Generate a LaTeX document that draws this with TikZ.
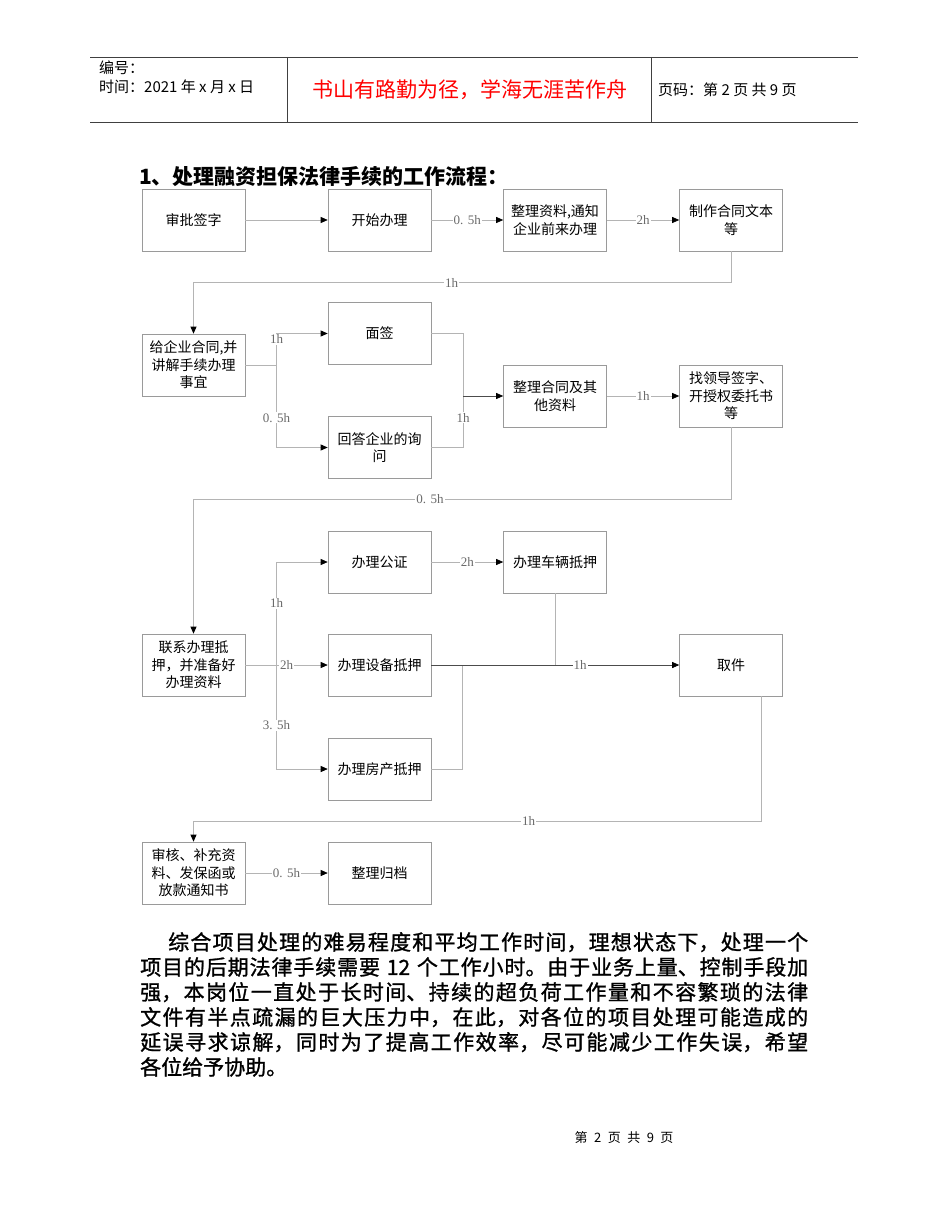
\documentclass[tikz,border=0pt]{standalone}
\usepackage{fontspec}
\setmainfont{Noto Sans CJK SC}
\newfontfamily\lblfont{Liberation Serif}
\newfontfamily\parafont{Noto Sans CJK SC}[FakeBold=1.2]
\usetikzlibrary{arrows.meta}
\XeTeXlinebreaklocale "zh"
\XeTeXlinebreakskip = 0pt plus 1pt

\definecolor{boxline}{HTML}{9A9A9A}
\definecolor{conline}{HTML}{B4B4B4}
\definecolor{lbltext}{HTML}{6A6A6A}

\newcommand*{\boxw}{103pt}
\newcommand*{\boxh}{62pt}
\newcommand*{\colA}{193.5}
\newcommand*{\colB}{379.5}
\newcommand*{\colC}{555}
\newcommand*{\colD}{731}

\begin{document}
\begin{tikzpicture}
[
	x=1pt,
	y=-1pt,
	box/.style={draw=boxline,line width=0.6pt,minimum width=\boxw,minimum height=\boxh,inner sep=0pt,align=center,font=\fontsize{14}{17.5}\selectfont},
	conn/.style={draw=conline,line width=0.7pt},
	conarr/.style={conn,-{Triangle[length=7pt,width=6pt,color=black]}},
	lbl/.style={fill=white,inner sep=1pt,text=lbltext,font=\lblfont\fontsize{13}{13}\selectfont},
	hdr/.style={line width=0.6pt,draw=black!75}
]

	\useasboundingbox (0,0) rectangle (950,1230);

	% page header
	\draw[hdr] (90,57) -- (858,57);
	\draw[hdr] (90,122) -- (858,122);
	\draw[hdr] (287,57) -- (287,122);
	\draw[hdr] (651,57) -- (651,122);
	\node[anchor=west,inner sep=0pt,font=\fontsize{15}{15}\selectfont] (bianhao) at (99,68) {编号：};
	\node[anchor=west,inner sep=0pt,font=\fontsize{15}{15}\selectfont] (shijian) at (99,87) {时间：2021 年 x 月 x 日};
	\node[inner sep=0pt,text=red,font=\fontsize{21}{21}\selectfont] (motto) at (470,90) {书山有路勤为径，学海无涯苦作舟};
	\node[anchor=west,inner sep=0pt,font=\fontsize{15}{15}\selectfont] (yema) at (658,90) {页码：第 2 页 共 9 页};

	% title
	\node[anchor=west,inner sep=0pt,font=\bfseries\fontsize{21}{21}\selectfont] (title) at (139,177) {1、处理融资担保法律手续的工作流程：};

	% boxes
	\node[box] (spqz) at (\colA,220) {审批签字};
	\node[box] (ksbl) at (\colB,220) {开始办理};
	\node[box] (zlzl) at (\colC,220) {整理资料,通知\\企业前来办理};
	\node[box] (zzht) at (\colD,220) {制作合同文本\\等};

	\node[box] (gqyh) at (\colA,365) {给企业合同,并\\讲解手续办理\\事宜};
	\node[box] (mq) at (\colB,333.5) {面签};
	\node[box] (hdxw) at (\colB,447.5) {回答企业的询\\问};
	\node[box] (zlht) at (\colC,396) {整理合同及其\\他资料};
	\node[box] (zldqz) at (\colD,396) {找领导签字、\\开授权委托书\\等};

	\node[box] (blgz) at (\colB,562) {办理公证};
	\node[box] (clcy) at (\colC,562) {办理车辆抵押};
	\node[box] (lxdy) at (\colA,665) {联系办理抵\\押，并准备好\\办理资料};
	\node[box] (sbdy) at (\colB,665) {办理设备抵押};
	\node[box] (qj) at (\colD,665) {取件};
	\node[box] (fcdy) at (\colB,769) {办理房产抵押};

	\node[box] (shbc) at (\colA,873) {审核、补充资\\料、发保函或\\放款通知书};
	\node[box] (zlgd) at (\colB,873) {整理归档};

	% turning points
	\coordinate (turnA) at (0,282.5);
	\coordinate (turnB) at (0,499.5);
	\coordinate (turnC) at (0,821);
	\coordinate (splitA) at (276.5,365);
	\coordinate (joinA) at (463,396);
	\coordinate (splitB) at (276.5,665);
	\coordinate (joinB) at (462,665);

	% first row
	\draw[conarr] (spqz) -- (ksbl);
	\draw[conarr] (ksbl) -- node[lbl] {0. 5h} (zlzl);
	\draw[conarr] (zlzl) -- node[lbl] {2h} (zzht);
	\draw[conarr] (zzht.south) -- (zzht.south |- turnA) -- node[lbl,pos=0.52] {1h} (gqyh.north |- turnA) -- (gqyh.north);

	% second row
	\draw[conn] (gqyh.east) -- (splitA);
	\draw[conarr] (splitA) |- node[lbl,pos=0.41] {1h} (mq.west);
	\draw[conarr] (splitA) |- node[lbl,pos=0.32] {0. 5h} (hdxw.west);
	\draw[conn] (mq.east) -| (joinA);
	\draw[conn] (hdxw.east) -| node[lbl,pos=0.79] {1h} (joinA);
	\draw[conarr,draw=black!70] (joinA) -- (zlht.west);
	\draw[conarr] (zlht) -- node[lbl] {1h} (zldqz);
	\draw[conarr] (zldqz.south) -- (zldqz.south |- turnB) -- node[lbl,pos=0.56] {0. 5h} (lxdy.north |- turnB) -- (lxdy.north);

	% third row
	\draw[conn] (lxdy.east) -- (splitB);
	\draw[conarr] (splitB) |- node[lbl,pos=0.3] {1h} (blgz.west);
	\draw[conarr] (lxdy.east) -- node[lbl] {2h} (sbdy.west);
	\draw[conarr] (splitB) |- node[lbl,pos=0.29] {3. 5h} (fcdy.west);
	\draw[conarr] (blgz) -- node[lbl] {2h} (clcy);
	\draw[conn] (fcdy.east) -| (joinB);
	\draw[conn] (clcy.south) -- (clcy.south |- qj.west);
	\draw[conarr,draw=black!70] (sbdy.east) -- node[lbl,pos=0.6] {1h} (qj.west);
	\draw[conarr] ([xshift=30.5pt]qj.south) -- ([xshift=30.5pt]qj.south |- turnC) -- node[lbl,pos=0.41] {1h} (shbc.north |- turnC) -- (shbc.north);

	% last row
	\draw[conarr] (shbc) -- node[lbl] {0. 5h} (zlgd);

	% text below
	\node[anchor=north west,inner sep=0pt,text width=668pt,align=justify,font=\parafont\fontsize{21}{25}\selectfont] (para) at (140,932) {\hspace*{28pt}综合项目处理的难易程度和平均工作时间，理想状态下，处理一个\linebreak 项目的后期法律手续需要 12 个工作小时。由于业务上量、控制手段加\linebreak 强，本岗位一直处于长时间、持续的超负荷工作量和不容繁琐的法律\linebreak 文件有半点疏漏的巨大压力中，在此，对各位的项目处理可能造成的\linebreak 延误寻求谅解，同时为了提高工作效率，尽可能减少工作失误，希望\linebreak 各位给予协助。};

	% footer
	\node[inner sep=0pt,font=\fontsize{13}{13}\selectfont] (footer) at (624,1138) {第\enspace 2\enspace 页\enspace 共\enspace 9\enspace 页};

\end{tikzpicture}
\end{document}
